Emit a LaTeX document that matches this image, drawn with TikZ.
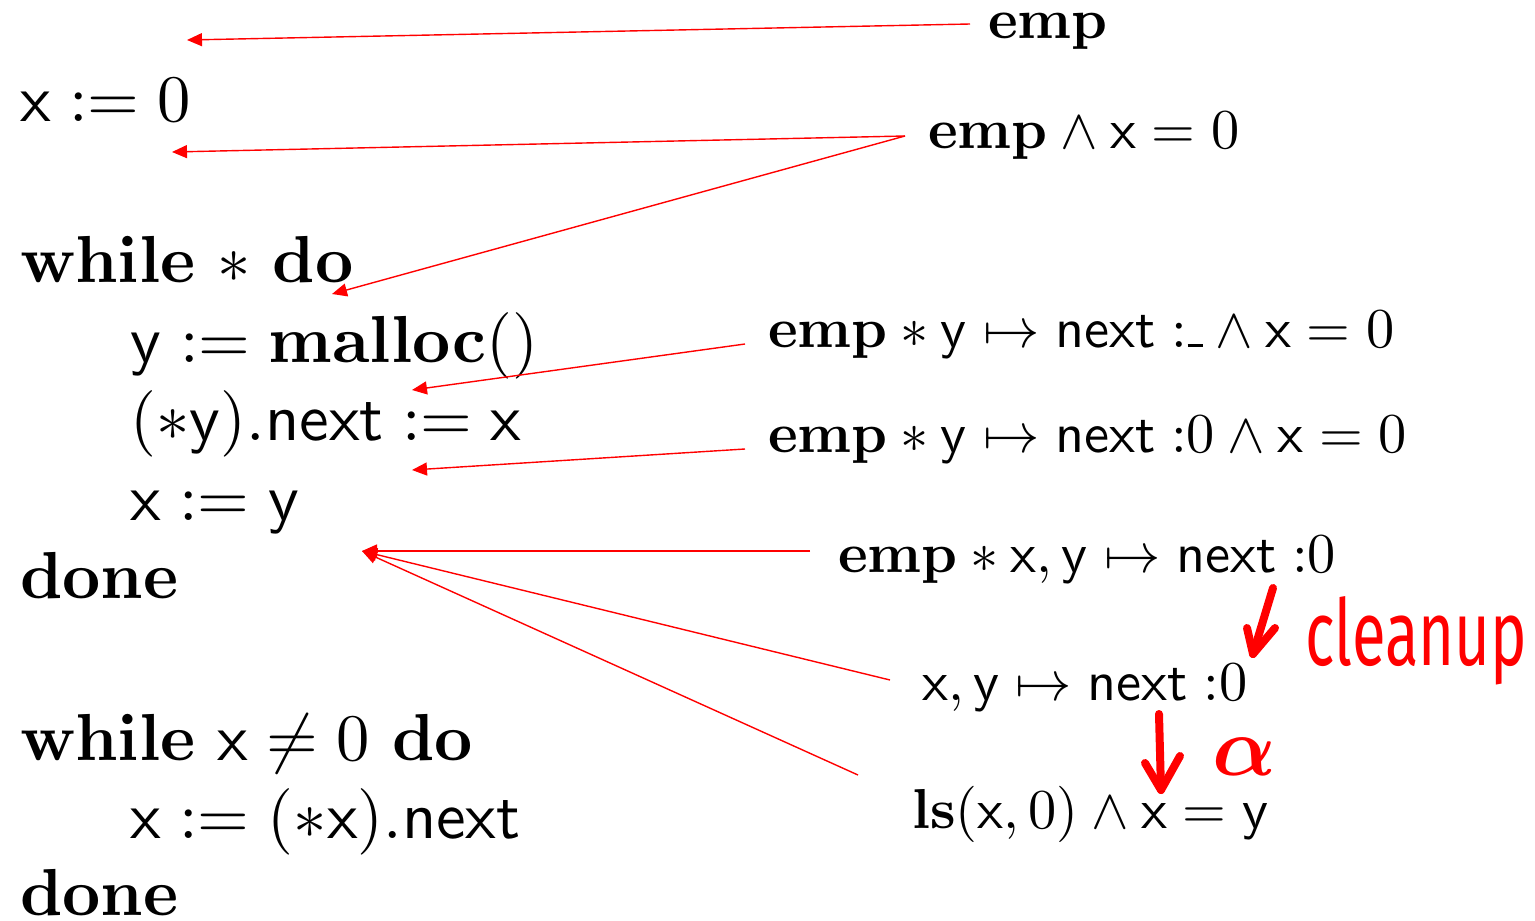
\documentclass[tikz,border=0pt]{standalone}
\usepackage[no-math]{fontspec}
\newfontfamily\handfont{Fira Sans}
\usetikzlibrary{arrows.meta,calc}
\newcommand\codetxt[1]{\scalebox{6.65}{#1}}
\newcommand\anntxt[1]{\scalebox{5.63}{#1}}
\newcommand\undsc{\kern0.1pt\rule{2.7pt}{0.5pt}}
\begin{document}
\begin{tikzpicture}[x=1pt,y=-1pt,
  code/.style={anchor=base west, inner sep=0pt, font=\fontsize{10}{12}\selectfont},
  ann/.style={anchor=base west, inner sep=0pt, font=\fontsize{10}{12}\selectfont},
  link/.style={red, line width=1.4pt, -{Triangle[length=15pt,width=13pt]}},
  hand/.style={red, line width=8pt, line cap=round, line join=round}]
\useasboundingbox (0,0) rectangle (1535,921);
% code
\node[code] (c1) at (20,121) {\codetxt{$\mathsf{x} := 0$}};
\node[code] (c2) at (20,282) {\codetxt{$\mathbf{while}\ {*}\ \mathbf{do}$}};
\node[code] (c3) at (130,362) {\codetxt{$\mathsf{y} := \mathbf{malloc}()$}};
\node[code] (c4) at (130,440) {\codetxt{$(*\mathsf{y}).\mathsf{next} := \mathsf{x}$}};
\node[code] (c5) at (130,520) {\codetxt{$\mathsf{x} := \mathsf{y}$}};
\node[code] (c6) at (20,598) {\codetxt{$\mathbf{done}$}};
\node[code] (c7) at (20,760) {\codetxt{$\mathbf{while}\ \mathsf{x} \neq 0\ \mathbf{do}$}};
\node[code] (c8) at (130,838) {\codetxt{$\mathsf{x} := (*\mathsf{x}).\mathsf{next}$}};
\node[code] (c9) at (20,915) {\codetxt{$\mathbf{done}$}};
% annotations
\node[ann] (a1) at (988,38) {\anntxt{$\mathbf{emp}$}};
\node[ann] (a2) at (928,148) {\anntxt{$\mathbf{emp} \wedge \mathsf{x} = 0$}};
\node[ann] (a3) at (768,347) {\anntxt{$\mathbf{emp} * \mathsf{y} \mapsto \mathsf{next}\;{:}\undsc \wedge \mathsf{x} = 0$}};
\node[ann] (a4) at (768,452) {\anntxt{$\mathbf{emp} * \mathsf{y} \mapsto \mathsf{next}\;{:}0 \wedge \mathsf{x} = 0$}};
\node[ann] (a5) at (838,572) {\anntxt{$\mathbf{emp} * \mathsf{x}, \mathsf{y} \mapsto \mathsf{next}\;{:}0$}};
\node[ann] (a6) at (922,700) {\anntxt{$\mathsf{x}, \mathsf{y} \mapsto \mathsf{next}\;{:}0$}};
\node[ann] (a7) at (912,828) {\anntxt{$\mathbf{ls}(\mathsf{x}, 0) \wedge \mathsf{x} = \mathsf{y}$}};
% targets
\coordinate (t1) at (187,40);
\coordinate (t2) at (172,152);
\coordinate (t3) at (332,294);
\coordinate (t4) at (412,390);
\coordinate (t5) at (412,470);
\coordinate (t6) at (362,551);
% connectors
\draw[link] ($(a1.base west)+(-18,-14)$) -- (t1);
\draw[link] ($(a2.base west)+(-23,-12)$) -- (t2);
\draw[link] ($(a2.base west)+(-23,-12)$) -- (t3);
\draw[link] ($(a3.base west)+(-23,-3)$) -- (t4);
\draw[link] ($(a4.base west)+(-23,-3)$) -- (t5);
\draw[link] ($(a5.base west)+(-28,-21)$) -- (t6);
\draw[link] ($(a6.base west)+(-32,-20)$) -- (t6);
\draw[link] ($(a7.base west)+(-54,-53)$) -- (t6);
% handwritten marks
\draw[hand] (1273,588) -- (1253,654);
\draw[hand] (1247,628) -- (1253,654) -- (1275,628);
\draw[hand] (1159,714) -- (1161,790);
\draw[hand] (1145,763) -- (1161,790) -- (1180,756);
\node[anchor=base west, inner sep=0pt, red, font=\handfont\fontsize{64}{70}\selectfont] (cl) at (1305,665) {\resizebox{222pt}{69pt}{cleanup}};
\node[anchor=base west, inner sep=0pt, red, font={\fontsize{10}{12}\selectfont\boldmath}] (al) at (1212,775) {\scalebox{8.4}{$\alpha$}};
\end{tikzpicture}
\end{document}
